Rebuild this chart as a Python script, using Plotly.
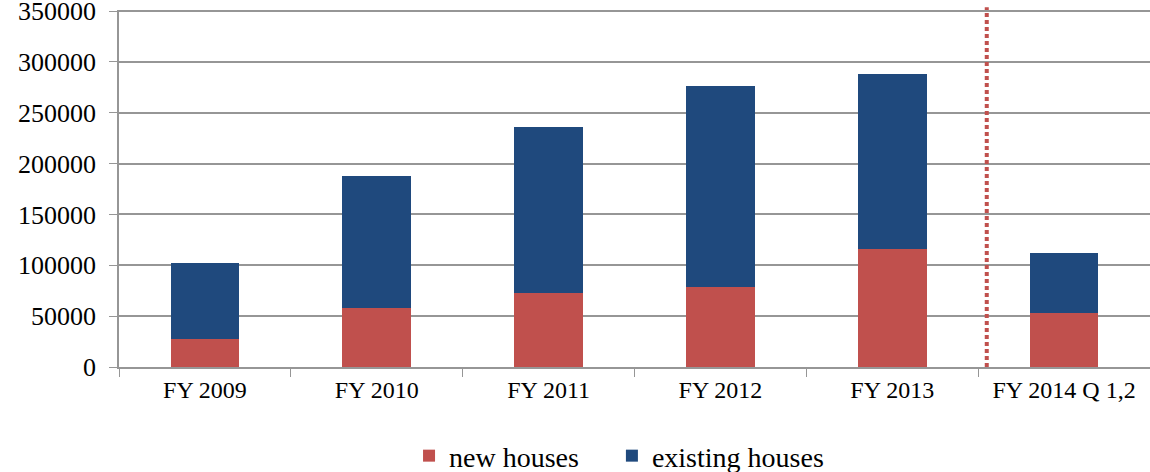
import plotly.graph_objects as go

# Data
categories = ["FY 2009", "FY 2010", "FY 2011", "FY 2012", "FY 2013", "FY 2014 Q 1,2"]
new_houses = [27500, 58000, 72500, 78500, 116000, 52800]
existing_houses = [75000, 129500, 163500, 197500, 172000, 59000]
series_names = ["new houses", "existing houses"]
y_ticks = [0, 50000, 100000, 150000, 200000, 250000, 300000, 350000]
divider_after = 4  # dotted separator sits after FY 2013

RED = "#C0504D"
BLUE = "#1F497D"
GRID = "#969696"
FONT = "Liberation Serif"
GAP = "\u00a0" * 4  # extra room between the two legend entries

fig = go.Figure()

fig.add_trace(go.Bar(
    x=categories, y=new_houses, name=series_names[0] + GAP,
    marker=dict(color=RED, line=dict(width=0)), width=0.4,
))
fig.add_trace(go.Bar(
    x=categories, y=existing_houses, name=series_names[1],
    marker=dict(color=BLUE, line=dict(width=0)), width=0.4,
))

# dotted vertical separator between the full years and the half year
fig.add_shape(
    type="line", xref="x", yref="paper",
    x0=divider_after + 0.55, x1=divider_after + 0.55, y0=0, y1=1.008,
    line=dict(color=RED, width=4, dash="4px,3px"),
)

fig.update_layout(
    barmode="stack",
    width=1150, height=472,
    margin=dict(l=119, r=0, t=10, b=105),
    paper_bgcolor="white", plot_bgcolor="white",
    font=dict(family=FONT, color="black"),
    showlegend=True,
    legend=dict(
        orientation="h", x=0.485, xanchor="center",
        yref="container", y=0.034, yanchor="middle",
        font=dict(size=28, family=FONT), itemwidth=30, traceorder="normal",
    ),
    xaxis=dict(
        showgrid=False, showline=True, linecolor=GRID, linewidth=1.5,
        ticks="outside", tickson="boundaries", ticklen=8, tickcolor=GRID,
        tickfont=dict(size=24, family=FONT), automargin=False,
        ticklabeloverflow="allow",
    ),
    yaxis=dict(
        range=[0, 351000], tickvals=y_ticks, ticktext=[str(v) for v in y_ticks],
        showgrid=True, gridcolor=GRID, gridwidth=1.5,
        showline=True, linecolor=GRID, linewidth=1.5,
        ticks="outside", ticklen=8, tickcolor=GRID,
        tickfont=dict(size=26, family=FONT), ticklabelstandoff=8,
        zeroline=False, automargin=False, ticklabeloverflow="allow",
    ),
)

# drop the browser's default body margin so the figure sits at the page corner
fig.write_html(
    "out.html",
    config={"displayModeBar": False},
    post_script="document.body.style.margin='0';",
)
